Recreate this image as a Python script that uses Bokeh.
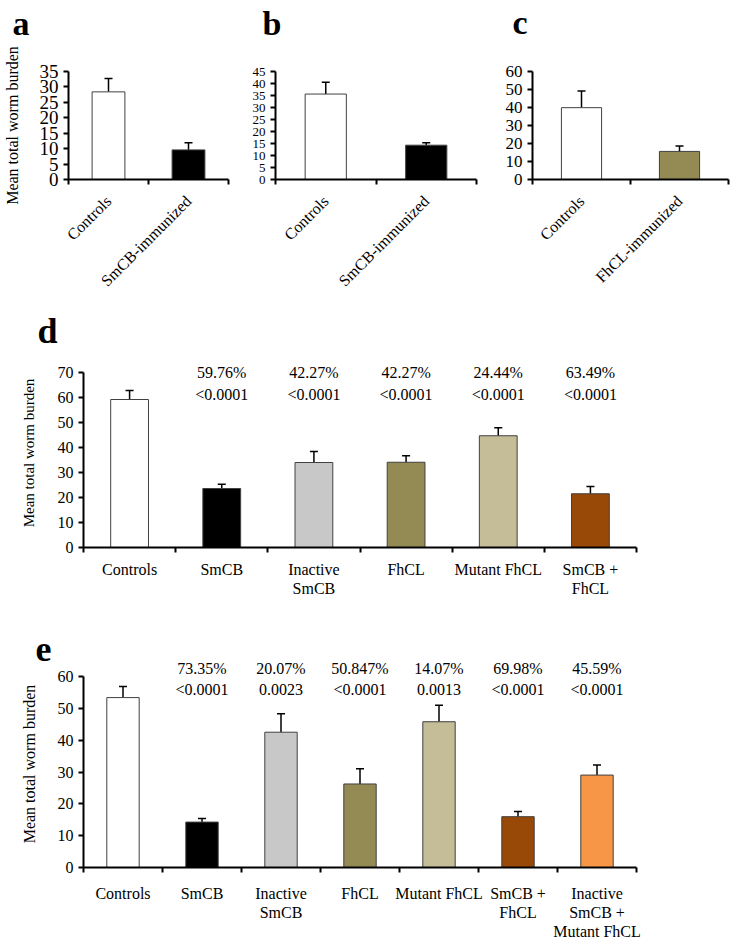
import math
from bokeh.plotting import figure
from bokeh.layouts import column, row
from bokeh.models import (Range1d, FixedTicker, Whisker, TeeHead, ColumnDataSource,
                          LabelSet, Title)
from bokeh.core.properties import value
from bokeh.embed import file_html
from bokeh.resources import INLINE

FONT = "Liberation Serif"

# ---------------- data ----------------
a_cats = ["Controls", "SmCB-immunized"]
a_mean = [28.4, 9.6]
a_err = [4.3, 2.3]
a_colors = ["#FFFFFF", "#000000"]

b_cats = ["Controls", "SmCB-immunized"]
b_mean = [35.6, 14.3]
b_err = [4.9, 1.0]
b_colors = ["#FFFFFF", "#000000"]

c_cats = ["Controls", "FhCL-immunized"]
c_mean = [39.9, 15.6]
c_err = [9.2, 3.0]
c_colors = ["#FFFFFF", "#948A54"]

d_cats = ["Controls", "SmCB", "Inactive\nSmCB", "FhCL", "Mutant FhCL", "SmCB +\nFhCL"]
d_mean = [59.2, 23.6, 34.0, 34.1, 44.7, 21.5]
d_err = [3.6, 1.7, 4.4, 2.6, 3.2, 2.9]
d_pct = ["", "59.76%", "42.27%", "42.27%", "24.44%", "63.49%"]
d_pval = ["", "<0.0001", "<0.0001", "<0.0001", "<0.0001", "<0.0001"]
d_colors = ["#FFFFFF", "#000000", "#C8C8C8", "#948A54", "#C4BD97", "#984807"]

e_cats = ["Controls", "SmCB", "Inactive\nSmCB", "FhCL", "Mutant FhCL", "SmCB +\nFhCL",
          "Inactive\nSmCB +\nMutant FhCL"]
e_mean = [53.5, 14.3, 42.6, 26.3, 45.9, 16.0, 29.1]
e_err = [3.5, 1.1, 5.8, 4.8, 5.2, 1.6, 3.2]
e_pct = ["", "73.35%", "20.07%", "50.847%", "14.07%", "69.98%", "45.59%"]
e_pval = ["", "<0.0001", "0.0023", "<0.0001", "0.0013", "<0.0001", "<0.0001"]
e_colors = ["#FFFFFF", "#000000", "#C8C8C8", "#948A54", "#C4BD97", "#984807", "#F79646"]

YLABEL = "Mean total worm burden"


def make_panel(cats, means, errs, colors, ymax, ystep, width, height, borders, frame_h,
               tick_font, cat_font, rotated, ylabel, ylabel_font, ylabel_standoff,
               letter, letter_dx, letter_base, letter_font=34, ext=0,
               pct=None, pval=None, pct_dy=0, p_dy=-20, cat_standoff=8):
    n = len(cats)
    xs = [2 * i + 1 for i in range(n)]
    bounds = [2 * i for i in range(n + 1)]
    ups = [m + e for m, e in zip(means, errs)]
    src = ColumnDataSource(dict(x=xs, top=means, up=ups, color=colors))
    l, r, t, b = borders
    yend = ymax * (frame_h + ext) / frame_h
    p = figure(width=width, height=height, x_range=Range1d(0, 2 * n),
               y_range=Range1d(0, yend), output_backend="svg", toolbar_location=None,
               min_border_left=l, min_border_right=r, min_border_top=t,
               min_border_bottom=b)
    p.outline_line_color = None
    p.xgrid.visible = False
    p.ygrid.visible = False
    p.vbar(x="x", top="top", bottom=0, width=0.82, fill_color="color",
           line_color="#404040", line_width=1, source=src)
    w = Whisker(source=src, base="x", lower="top", upper="up", dimension="height",
                lower_head=None,
                upper_head=TeeHead(size=8, line_color="black", line_width=1.5),
                line_color="black", line_width=1.5)
    p.add_layout(w)

    # panel letter (outermost title) with a spacer title between it and the frame
    p.title.text = letter
    p.title.align = "left"
    p.title.offset = letter_dx
    p.title.standoff = 0
    p.title.text_font = FONT
    p.title.text_font_size = f"{letter_font}px"
    p.title.text_font_style = "bold"
    p.title.text_color = "black"
    gap = int(round(t - letter_base - 0.216 * letter_font - 3))
    if gap >= 0:
        p.add_layout(Title(text=" ", text_font_size="1px", standoff=gap), "above")

    # x axis
    xa = p.xaxis[0]
    xa.ticker = FixedTicker(ticks=xs, minor_ticks=bounds)
    xa.major_label_overrides = {x: c for x, c in zip(xs, cats)}
    xa.axis_line_width = 2
    xa.axis_line_color = "black"
    xa.major_tick_out = 0
    xa.major_tick_in = 0
    xa.minor_tick_out = 5
    xa.minor_tick_in = 0
    xa.minor_tick_line_width = 2
    xa.minor_tick_line_color = "black"
    xa.major_label_text_font = FONT
    xa.major_label_text_font_size = f"{cat_font}px"
    xa.major_label_text_color = "black"
    xa.major_label_text_line_height = 1.12
    xa.major_label_standoff = cat_standoff
    if rotated:
        xa.major_label_orientation = math.pi / 4

    # y axis
    ya = p.yaxis[0]
    ya.bounds = (0, ymax)
    ya.ticker = FixedTicker(ticks=list(range(0, ymax + 1, ystep)))
    ya.axis_line_width = 2
    ya.axis_line_color = "black"
    ya.major_tick_out = 5
    ya.major_tick_in = 0
    ya.major_tick_line_width = 2
    ya.major_tick_line_color = "black"
    ya.minor_tick_out = 0
    ya.minor_tick_in = 0
    ya.major_label_text_font = FONT
    ya.major_label_text_font_size = f"{tick_font}px"
    ya.major_label_text_color = "black"
    ya.major_label_standoff = 5
    if ylabel:
        ya.axis_label = ylabel
        ya.axis_label_text_font = FONT
        ya.axis_label_text_font_size = f"{ylabel_font}px"
        ya.axis_label_text_font_style = "normal"
        ya.axis_label_text_color = "black"
        ya.axis_label_standoff = ylabel_standoff

    if pct is not None:
        asrc = ColumnDataSource(dict(x=xs, y=[ymax] * n, pct=pct, pval=pval))
        p.add_layout(LabelSet(x="x", y="y", text="pct", source=asrc, y_offset=pct_dy,
                              text_font=value(FONT), text_font_size=value("16px"),
                              text_color="black", text_align="center",
                              text_baseline="middle"))
        p.add_layout(LabelSet(x="x", y="y", text="pval", source=asrc, y_offset=p_dy,
                              text_font=value(FONT), text_font_size=value("16px"),
                              text_color="black", text_align="center",
                              text_baseline="middle"))
    return p


fa = make_panel(a_cats, a_mean, a_err, a_colors, 35, 5, 240, 300, (61, 12, 70, 117), 113,
                19, 16, True, YLABEL, 16, 16, "a", -56, 33, letter_font=34,
                cat_standoff=14)
fb = make_panel(b_cats, b_mean, b_err, b_colors, 45, 5, 240, 300, (35, 4, 70, 121), 109,
                13, 16, True, None, 0, 0, "b", -13, 33, letter_font=34,
                cat_standoff=14)
fc = make_panel(c_cats, c_mean, c_err, c_colors, 60, 10, 252, 300, (52, 4, 71, 114), 115,
                17, 16, True, None, 0, 0, "c", -20, 33, letter_font=34,
                cat_standoff=14)
fd = make_panel(d_cats, d_mean, d_err, d_colors, 70, 10, 732, 300, (83, 96, 58, 53), 175,
                16, 16, False, YLABEL, 15, 18, "d", -46, 42, letter_font=36, ext=14,
                pct=d_pct, pval=d_pval, pct_dy=0, p_dy=-22, cat_standoff=8)
fe = make_panel(e_cats, e_mean, e_err, e_colors, 60, 10, 732, 342, (83, 3, 60, 68), 197,
                16, 16, False, YLABEL, 16, 17, "e", -48, 53, letter_font=36, ext=17,
                pct=e_pct, pval=e_pval, pct_dy=8, p_dy=-13, cat_standoff=12)

layout = column(row(fa, fb, fc), fd, fe)
open("out.html", "w").write(file_html(layout, INLINE))
